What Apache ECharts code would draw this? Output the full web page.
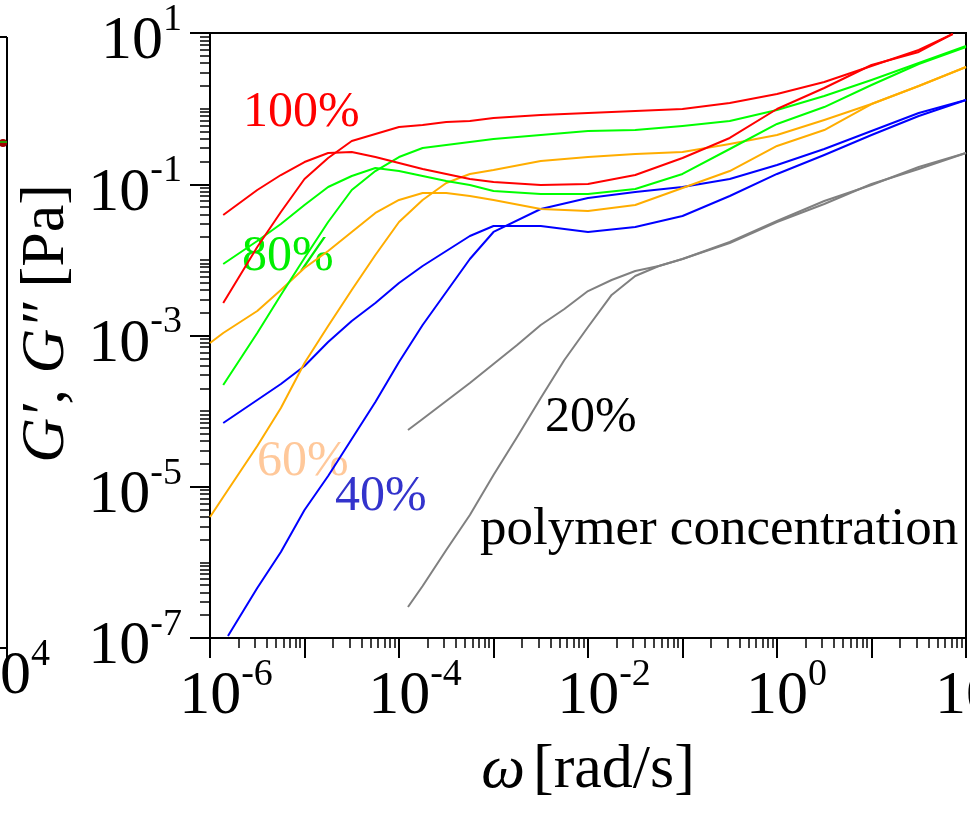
<!DOCTYPE html>
<html><head><meta charset="utf-8">
<script src="https://cdn.jsdelivr.net/npm/echarts@6/dist/echarts.min.js"></script>
<style>html,body{margin:0;padding:0;background:#fff}#c{width:970px;height:815px}</style>
</head><body><div id="c"></div>
<script>
// All values below are log10 readings: log10(omega [rad/s]) and log10(G [Pa])
const logW100 = [-5.86,-5.5,-5.25,-5.0,-4.75,-4.5,-4.25,-4.0,-3.75,-3.5,-3.25,-3.0,-2.5,-2.0,-1.5,-1.0,-0.5,0,0.5,1.0,1.5,1.86];
const gS100 = [-2.570,-1.830,-1.367,-0.931,-0.653,-0.428,-0.336,-0.243,-0.217,-0.177,-0.164,-0.124,-0.084,-0.058,-0.031,-0.005,0.074,0.193,0.352,0.564,0.775,0.987];
const gL100 = [-1.407,-1.076,-0.878,-0.706,-0.587,-0.574,-0.640,-0.719,-0.798,-0.864,-0.931,-0.970,-1.010,-0.997,-0.878,-0.653,-0.388,-0.005,0.273,0.577,0.749,0.987];

const logW80 = [-5.86,-5.5,-5.25,-5.0,-4.75,-4.5,-4.25,-4.0,-3.75,-3.5,-3.25,-3.0,-2.5,-2.0,-1.5,-1.0,-0.5,0,0.5,1.0,1.5,2.0];
const gS80 = [-3.655,-2.967,-2.464,-1.975,-1.499,-1.076,-0.825,-0.640,-0.521,-0.481,-0.441,-0.402,-0.349,-0.296,-0.283,-0.230,-0.164,-0.018,0.167,0.379,0.603,0.828];
const gL80 = [-2.055,-1.750,-1.526,-1.274,-1.036,-0.891,-0.785,-0.825,-0.891,-0.957,-1.010,-1.089,-1.129,-1.129,-1.063,-0.864,-0.534,-0.203,0.021,0.312,0.590,0.815];

const logW60 = [-6.0,-5.86,-5.5,-5.25,-5.0,-4.75,-4.5,-4.25,-4.0,-3.75,-3.5,-3.25,-3.0,-2.5,-2.0,-1.5,-1.0,-0.5,0,0.5,1.0,1.5,2.0];
const gS60 = [-5.400,-5.136,-4.461,-3.959,-3.364,-2.874,-2.398,-1.936,-1.499,-1.208,-0.983,-0.864,-0.812,-0.693,-0.640,-0.600,-0.574,-0.468,-0.349,-0.150,0.061,0.299,0.550];
const gL60 = [-3.099,-2.967,-2.676,-2.398,-2.107,-1.883,-1.631,-1.380,-1.208,-1.116,-1.116,-1.155,-1.208,-1.327,-1.354,-1.274,-1.050,-0.825,-0.494,-0.283,0.061,0.299,0.550];

const logW40S = [-5.81,-5.5,-5.25,-5.0,-4.75,-4.5,-4.25,-4.0,-3.75,-3.5,-3.25,-3.0,-2.5,-2.0,-1.5,-1.0,-0.5,0,0.5,1.0,1.5,2.0];
const gS40 = [-6.974,-6.339,-5.863,-5.307,-4.858,-4.369,-3.879,-3.350,-2.861,-2.425,-1.988,-1.631,-1.327,-1.182,-1.102,-1.036,-0.931,-0.745,-0.534,-0.296,-0.058,0.114];
const logW40L = [-5.86,-5.5,-5.25,-5.0,-4.75,-4.5,-4.25,-4.0,-3.75,-3.5,-3.25,-3.0,-2.5,-2.0,-1.5,-1.0,-0.5,0,0.5,1.0,1.5,2.0];
const gL40 = [-4.157,-3.853,-3.641,-3.403,-3.086,-2.808,-2.570,-2.306,-2.081,-1.883,-1.684,-1.552,-1.552,-1.631,-1.565,-1.420,-1.155,-0.864,-0.613,-0.349,-0.098,0.114];

const logW20 = [-3.905,-3.75,-3.5,-3.25,-3.0,-2.75,-2.5,-2.25,-2.0,-1.75,-1.5,-1.25,-1.0,-0.5,0,0.5,1.0,1.5,2.0];
const gS20 = [-6.590,-6.312,-5.836,-5.374,-4.845,-4.342,-3.826,-3.324,-2.888,-2.464,-2.213,-2.081,-1.988,-1.777,-1.499,-1.261,-0.997,-0.798,-0.587];
const gL20 = [-4.250,-4.104,-3.866,-3.628,-3.377,-3.126,-2.861,-2.650,-2.412,-2.266,-2.147,-2.081,-1.988,-1.764,-1.486,-1.221,-1.010,-0.772,-0.587];

const xLabelExps = [-6,-4,-2,0,2];
const yLabelExps = [1,-1,-3,-5,-7];
const annotations = ['100%','80%','60%','40%','20%','polymer concentration'];

const FONT = '"Liberation Serif","Times New Roman",serif';
const pairs = (xs, ys) => xs.map((x, i) => [Math.pow(10, x), Math.pow(10, ys[i])]);
const decadesX = [], minorsX = [], decadesY = [], minorsY = [];
for (let e = -6; e <= 2; e++) { decadesX.push(Math.pow(10, e)); if (e < 2) for (let m = 2; m <= 9; m++) minorsX.push(m * Math.pow(10, e)); }
for (let e = -7; e <= 1; e++) {
  if (yLabelExps.includes(e)) decadesY.push(Math.pow(10, e)); else minorsY.push(Math.pow(10, e));
  if (e < 1) for (let m = 2; m <= 9; m++) minorsY.push(m * Math.pow(10, e));
}
const expOf = v => Math.round(Math.log10(v));
const rich = {
  a: {fontFamily: FONT, fontSize: 62, lineHeight: 72, verticalAlign: 'bottom', color: '#000'},
  an: {fontFamily: FONT, fontSize: 62, lineHeight: 72, verticalAlign: 'bottom', color: '#000', padding: [0,0,0,32]},
  ap: {fontFamily: FONT, fontSize: 62, lineHeight: 72, verticalAlign: 'bottom', color: '#000', padding: [0,0,0,19]},
  s: {fontFamily: FONT, fontSize: 38, lineHeight: 38, verticalAlign: 'top', color: '#000'}
};
const colors = {c100: '#ff0000', c80: '#00ff00', c60: '#ffad00', c40: '#0000ff', c20: '#808080'};
const mk = (name, data, color, w) => ({name, type: 'line', data, showSymbol: false, symbol: 'none',
  lineStyle: {color, width: w || 2, join: 'round'}, itemStyle: {color}, xAxisIndex: 0, yAxisIndex: 0, clip: true, silent: true});

const chart = echarts.init(document.getElementById('c'), null, {renderer: 'canvas'});
chart.setOption({
  animation: false,
  backgroundColor: '#fff',
  grid: {left: 210, top: 33, width: 756, height: 605, containLabel: false, outerBoundsMode: 'none',
         show: true, borderColor: '#000', borderWidth: 2, backgroundColor: 'transparent'},
  xAxis: [
    {type: 'log', logBase: 10, min: 1e-6, max: 1e2, position: 'bottom',
     axisLine: {show: true, onZero: false, lineStyle: {color: '#000', width: 2}},
     axisTick: {show: true, inside: false, length: 20, customValues: decadesX, lineStyle: {color: '#000', width: 2}},
     axisLabel: {show: true, margin: 18, hideOverlap: false, customValues: xLabelExps.map(e => Math.pow(10, e)),
       formatter: v => { const e = expOf(v); return '{' + (e < 0 ? 'an' : 'ap') + '|10}{s|' + e + '}'; }, rich},
     splitLine: {show: false},
     name: '{i|ω}[rad/s]', nameLocation: 'middle', nameGap: 102,
     nameTextStyle: {fontFamily: FONT, fontSize: 62, color: '#000',
       rich: {i: {fontFamily: FONT, fontSize: 62, fontStyle: 'italic', color: '#000', padding: [0, 8, 0, 0]}}}},
    {type: 'log', logBase: 10, min: 1e-6, max: 1e2, position: 'bottom',
     axisLine: {show: false, onZero: false}, axisLabel: {show: false}, splitLine: {show: false},
     axisTick: {show: true, inside: false, length: 10, customValues: minorsX, lineStyle: {color: '#000', width: 1.5}}}
  ],
  yAxis: [
    {type: 'log', logBase: 10, min: 1e-7, max: 1e1, position: 'left',
     axisLine: {show: true, onZero: false, lineStyle: {color: '#000', width: 2}},
     axisTick: {show: true, inside: false, length: 20, customValues: decadesY, lineStyle: {color: '#000', width: 2}},
     axisLabel: {show: true, margin: 28, hideOverlap: false, padding: [8, 0, 0, 0], customValues: yLabelExps.map(e => Math.pow(10, e)),
       formatter: v => '{a|10}{s|' + expOf(v) + '}', rich},
     splitLine: {show: false},
     name: '{i|G′}, {i|G″} [Pa]', nameLocation: 'middle', nameRotate: 90, nameGap: 116,
     nameTextStyle: {fontFamily: FONT, fontSize: 62, color: '#000', padding: [0, 0, 0, 24],
       rich: {i: {fontFamily: FONT, fontSize: 62, fontStyle: 'italic', color: '#000'}}}},
    {type: 'log', logBase: 10, min: 1e-7, max: 1e1, position: 'left',
     axisLine: {show: false, onZero: false}, axisLabel: {show: false}, splitLine: {show: false},
     axisTick: {show: true, inside: false, length: 10, customValues: minorsY, lineStyle: {color: '#000', width: 1.5}}}
  ],
  series: [
    mk("G' 20%", pairs(logW20, gS20), colors.c20),
    mk("G'' 20%", pairs(logW20, gL20), colors.c20),
    mk("G' 40%", pairs(logW40S, gS40), colors.c40),
    mk("G'' 40%", pairs(logW40L, gL40), colors.c40),
    mk("G' 60%", pairs(logW60, gS60), colors.c60),
    mk("G'' 60%", pairs(logW60, gL60), colors.c60),
    mk("G' 80%", pairs(logW80, gS80), colors.c80),
    mk("G'' 80%", pairs(logW80, gL80), colors.c80),
    mk("G' 100%", pairs(logW100, gS100), colors.c100),
    mk("G'' 100%", pairs(logW100, gL100), colors.c100)
  ],
  graphic: [
    {type: 'text', left: 243, top: 88, style: {text: annotations[0], fill: '#ff0000', font: '50px ' + FONT}},
    {type: 'text', left: 242, top: 232, style: {text: annotations[1], fill: '#00ee00', font: '50px ' + FONT}},
    {type: 'text', left: 257, top: 437, style: {text: annotations[2], fill: '#ffc89a', font: '50px ' + FONT}},
    {type: 'text', left: 335, top: 472, style: {text: annotations[3], fill: '#3333cc', font: '50px ' + FONT}},
    {type: 'text', left: 545, top: 393, style: {text: annotations[4], fill: '#000', font: '50px ' + FONT}},
    {type: 'text', left: 480, top: 504, style: {text: annotations[5], fill: '#000', font: '53px ' + FONT}},
    {type: 'line', shape: {x1: 7, y1: 37, x2: 7, y2: 662}, style: {stroke: '#000', lineWidth: 2}},
    {type: 'line', shape: {x1: 0, y1: 37, x2: 7, y2: 37}, style: {stroke: '#000', lineWidth: 2}},
    {type: 'line', shape: {x1: 0, y1: 648, x2: 7, y2: 648}, style: {stroke: '#000', lineWidth: 2}},
    {type: 'circle', shape: {cx: 3, cy: 143, r: 4}, style: {fill: '#a00000'}},
    {type: 'line', shape: {x1: 0, y1: 142, x2: 7, y2: 142}, style: {stroke: '#00cc00', lineWidth: 1.5}},
    {type: 'text', x: -31, y: 636, style: {text: '{a|10}{s|4}', rich: rich}}
  ]
});
</script>
</body></html>
